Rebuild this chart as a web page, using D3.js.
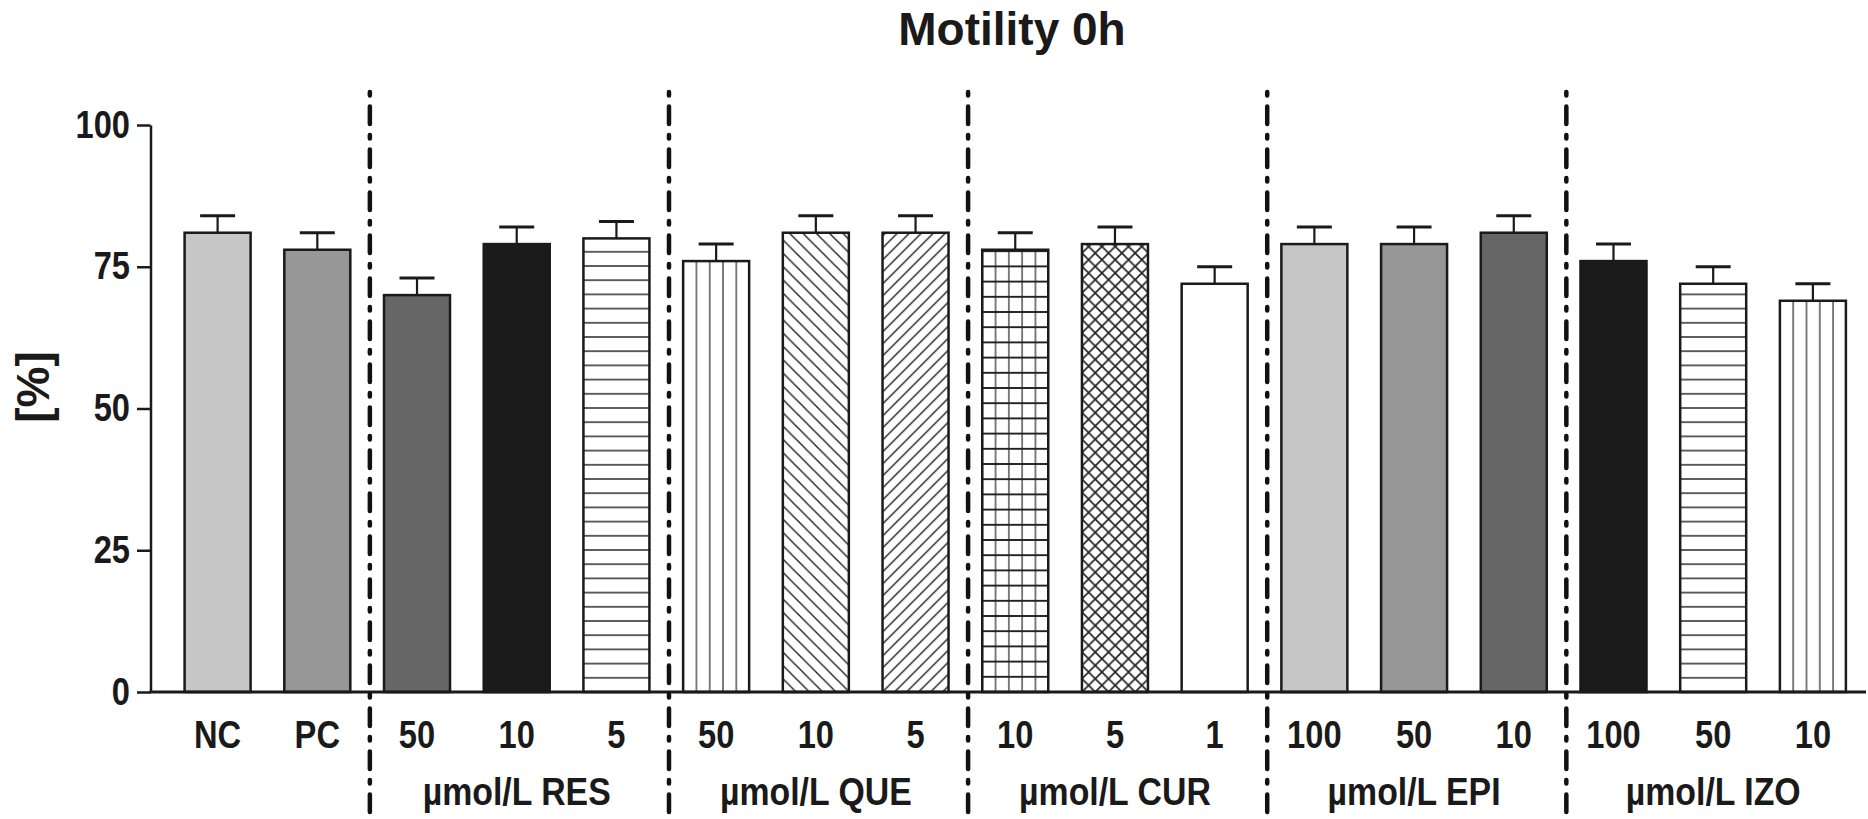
<!DOCTYPE html>
<html>
<head>
<meta charset="utf-8">
<script src="https://cdn.jsdelivr.net/npm/d3@7"></script>
<style>
  body { margin: 0; background: #fff; }
  svg { display: block; }
  text { font-family: "Liberation Sans", Arial, sans-serif; font-weight: bold; fill: #1a1a1a; }
</style>
</head>
<body>
<script>
// ---------- data ----------
const categories = ["NC","PC","RES50","RES10","RES5","QUE50","QUE10","QUE5","CUR10","CUR5","CUR1","EPI100","EPI50","EPI10","IZO100","IZO50","IZO10"];
const tickLabels = ["NC","PC","50","10","5","50","10","5","10","5","1","100","50","10","100","50","10"];
const values = [81,78,70,79,80,76,81,81,78,79,72,79,79,81,76,72,69];
const errors = [3,3,3,3,3,3,3,3,3,3,3,3,3,3,3,3,3];
const categoryGroup = ["","","RES","RES","RES","QUE","QUE","QUE","CUR","CUR","CUR","EPI","EPI","EPI","IZO","IZO","IZO"];
const groupKeys = ["RES","QUE","CUR","EPI","IZO"];
const groupLabels = ["\u00b5mol/L RES","\u00b5mol/L QUE","\u00b5mol/L CUR","\u00b5mol/L EPI","\u00b5mol/L IZO"];
const yTicks = [0,25,50,75,100];
const title = "Motility 0h";
const yTitle = "[%]";

// ---------- styles (per bar) ----------
const barStyles = [
  {fill:"#c6c6c6"},{fill:"#979797"},{fill:"#656665"},{fill:"#1b1b1b"},{pattern:"hlines"},
  {pattern:"vlines"},{pattern:"bslash"},{pattern:"fslash"},
  {pattern:"grid"},{pattern:"cross"},{fill:"#ffffff"},
  {fill:"#c6c6c6"},{fill:"#979797"},{fill:"#656665"},
  {fill:"#1b1b1b"},{pattern:"hlines"},{pattern:"vlines"}
];

const W = 1868, H = 819;
const ink = "#1a1a1a";
const condense = 0.86;
const labelSize = 38;

const svg = d3.select("body").append("svg").attr("width", W).attr("height", H);

const y = d3.scaleLinear().domain([0, 100]).range([692, 125]);
const x = d3.scaleBand().domain(categories).range([150.5, 1880]).paddingInner(0.338).paddingOuter(0.342);
const bw = x.bandwidth();
const y0 = y(0);

// ---------- patterns ----------
const defs = svg.append("defs");
categories.forEach((c, i) => {
  const st = barStyles[i];
  if (!st.pattern) return;
  const bx = x(c);
  let pw, ph;
  if (st.pattern === "hlines") { pw = 10; ph = 14.2; }
  else if (st.pattern === "vlines") { pw = 13.3; ph = 10; }
  else if (st.pattern === "bslash") { pw = 13.3; ph = 13.3; }
  else if (st.pattern === "fslash") { pw = 12; ph = 12; }
  else if (st.pattern === "grid") { pw = 13.3; ph = 15.2; }
  else { pw = 13.3; ph = 13.3; }
  const p = defs.append("pattern").attr("id", "pat" + i)
    .attr("patternUnits", "userSpaceOnUse")
    .attr("x", bx).attr("y", y0).attr("width", pw).attr("height", ph);
  p.append("rect").attr("width", pw).attr("height", ph).attr("fill", "#fff");
  const ln = (d, col, sw) => p.append("path").attr("d", d).attr("stroke", col || "#222").attr("stroke-width", sw || 1.5).attr("fill", "none");
  if (st.pattern === "hlines") ln(`M-1,0H${pw+1}M-1,${ph}H${pw+1}`, "#222", 1.6);
  if (st.pattern === "vlines") ln(`M0,-1V${ph+1}M${pw},-1V${ph+1}`, "#555", 1.5);
  if (st.pattern === "bslash") ln(`M-2,-2L${pw+2},${ph+2}M${-pw/2-2},${ph/2-2}L${pw/2+2},${ph*1.5+2}M${pw/2-2},${-ph/2-2}L${pw*1.5+2},${ph/2+2}`, "#222", 1.4);
  if (st.pattern === "fslash") ln(`M-2,${ph+2}L${pw+2},-2M${-pw/2-2},${ph/2+2}L${pw/2+2},${-ph/2-2}M${pw/2-2},${ph*1.5+2}L${pw*1.5+2},${ph/2-2}`, "#222", 1.4);
  if (st.pattern === "grid") { ln(`M0,-1V${ph+1}M${pw},-1V${ph+1}`, "#555", 1.5); ln(`M-1,0H${pw+1}M-1,${ph}H${pw+1}`, "#222", 1.7); }
  if (st.pattern === "cross") ln(`M-2,-2L${pw+2},${ph+2}M-2,${ph+2}L${pw+2},-2`, "#222", 1.7);
});

// ---------- bars ----------
svg.append("g").selectAll("rect").data(categories).join("rect")
  .attr("x", d => x(d))
  .attr("y", (d, i) => y(values[i]))
  .attr("width", bw)
  .attr("height", (d, i) => y0 - y(values[i]))
  .attr("fill", (d, i) => barStyles[i].pattern ? `url(#pat${i})` : barStyles[i].fill)
  .attr("stroke", ink).attr("stroke-width", 2.5);

// ---------- error bars ----------
const eb = svg.append("g").attr("stroke", ink);
eb.selectAll("line.stem").data(categories).join("line").attr("class", "stem")
  .attr("x1", d => x(d) + bw / 2).attr("x2", d => x(d) + bw / 2)
  .attr("y1", (d, i) => y(values[i])).attr("y2", (d, i) => y(values[i] + errors[i]))
  .attr("stroke-width", 2.2);
eb.selectAll("line.cap").data(categories).join("line").attr("class", "cap")
  .attr("x1", d => x(d) + bw / 2 - 17.5).attr("x2", d => x(d) + bw / 2 + 17.5)
  .attr("y1", (d, i) => y(values[i] + errors[i])).attr("y2", (d, i) => y(values[i] + errors[i]))
  .attr("stroke-width", 3);

// ---------- y axis ----------
const yAxis = svg.append("g").attr("transform", `translate(${x.range()[0]},0)`)
  .call(d3.axisLeft(y).tickValues(yTicks).tickSize(13.5).tickSizeOuter(0).tickPadding(7));
yAxis.select(".domain").attr("stroke", ink).attr("stroke-width", 2.5);
yAxis.selectAll(".tick line").attr("stroke", ink).attr("stroke-width", 2.5);
yAxis.selectAll(".tick text")
  .attr("font-size", labelSize).attr("fill", ink)
  .attr("font-family", null)
  .attr("x", -20.5 / condense)
  .attr("transform", `scale(${condense},1)`);

// ---------- x axis ----------
svg.append("line").attr("x1", x.range()[0] - 1).attr("x2", 1866)
  .attr("y1", y0).attr("y2", y0).attr("stroke", ink).attr("stroke-width", 3);

// category labels
svg.append("g").selectAll("text").data(categories).join("text")
  .attr("transform", d => `translate(${x(d) + bw / 2},748) scale(${condense},1)`)
  .attr("text-anchor", "middle").attr("font-size", labelSize)
  .text((d, i) => tickLabels[i]);

// group labels
svg.append("g").selectAll("text").data(groupKeys).join("text")
  .attr("transform", g => {
    const members = categories.filter((c, i) => categoryGroup[i] === g);
    const cx = (x(members[0]) + x(members[members.length - 1]) + bw) / 2;
    return `translate(${cx},805) scale(${condense + 0.03},1)`;
  })
  .attr("text-anchor", "middle").attr("font-size", labelSize)
  .text((g, i) => groupLabels[i]);

// ---------- separators ----------
const sepX = groupKeys.map(g => {
  const first = categories.find((c, i) => categoryGroup[i] === g);
  return x(first) - (x.step() - bw) / 2 + 2.7;
});
svg.append("g").selectAll("line").data(sepX).join("line")
  .attr("x1", d => d).attr("x2", d => d)
  .attr("y1", 92).attr("y2", 819)
  .attr("stroke", "#111").attr("stroke-width", 4.5)
  .attr("stroke-linecap", "round")
  .attr("stroke-dasharray", "3.5,11,17.5,11");

// ---------- titles ----------
svg.append("text").attr("x", 1012).attr("y", 45).attr("text-anchor", "middle")
  .attr("font-size", 46).text(title);

svg.append("text").attr("transform", "translate(49,387) rotate(-90)")
  .attr("text-anchor", "middle").attr("font-size", 46).text(yTitle);
</script>
</body>
</html>
